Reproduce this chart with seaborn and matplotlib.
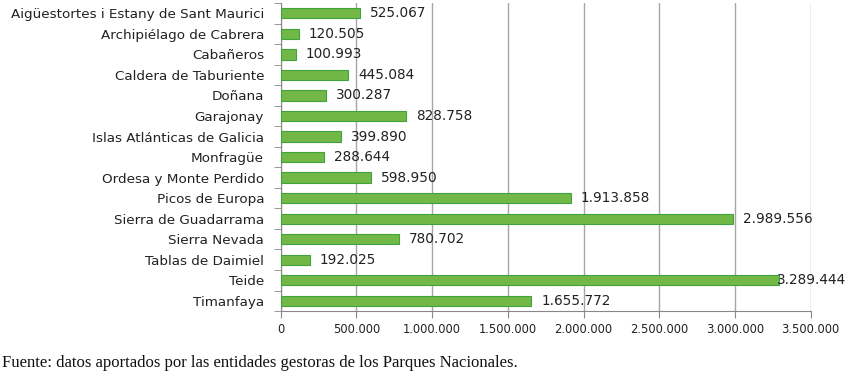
import seaborn as sns
import matplotlib.pyplot as plt
import matplotlib.ticker as mticker
import pandas as pd

sns.set_style("white")

parques = ["Aigüestortes i Estany de Sant Maurici", "Archipiélago de Cabrera", "Cabañeros",
           "Caldera de Taburiente", "Doñana", "Garajonay", "Islas Atlánticas de Galicia",
           "Monfragüe", "Ordesa y Monte Perdido", "Picos de Europa", "Sierra de Guadarrama",
           "Sierra Nevada", "Tablas de Daimiel", "Teide", "Timanfaya"]
visitantes = [525067, 120505, 100993, 445084, 300287, 828758, 399890, 288644,
              598950, 1913858, 2989556, 780702, 192025, 3289444, 1655772]

df = pd.DataFrame({"parque": parques, "visitantes": visitantes})

def miles(v, pos=None):
    return f"{int(v):,}".replace(",", ".")

fig = plt.figure(figsize=(8.56, 3.78), dpi=100)
ax = fig.add_axes([0.328, 0.177, 0.619, 0.815])

sns.barplot(data=df, x="visitantes", y="parque", color="#72b847", width=0.5,
            edgecolor="#3fa33f", linewidth=0.8, saturation=1, ax=ax, zorder=3)

for p, v in zip(ax.patches, visitantes):
    x = p.get_width() + 65000
    if x > 3250000:  # la etiqueta no cabe, se pega a la barra
        x = p.get_width() - 15000
    ax.text(x, p.get_y() + p.get_height() / 2, miles(v),
            va="center", ha="left", fontsize=9.8, color="#222222", zorder=4)

ax.set_xlim(0, 3500000)
ax.set_ylim(len(parques) - 0.5, -0.5)
ax.xaxis.set_major_locator(mticker.MultipleLocator(500000))
ax.xaxis.set_major_formatter(mticker.FuncFormatter(miles))
ax.grid(axis="x", color="#a6a6a6", linewidth=1, zorder=0)
ax.set_xlabel("")
ax.set_ylabel("")

# ticks en y entre categorias
ax.set_yticks(range(len(parques)))
ax.set_yticklabels(parques)
ax.set_yticks([i - 0.5 for i in range(len(parques) + 1)], minor=True)
ax.tick_params(axis="y", which="major", length=0, labelsize=9.7, pad=12, colors="#222222")
ax.tick_params(axis="y", which="minor", length=5, color="#888888", left=True)
ax.tick_params(axis="x", length=5, color="#888888", labelsize=8.3, colors="#222222", bottom=True)

for s in ["top", "right"]:
    ax.spines[s].set_visible(False)
ax.spines["left"].set_color("#888888")
ax.spines["bottom"].set_color("#888888")

fig.text(0.002, 0.03, "Fuente: datos aportados por las entidades gestoras de los Parques Nacionales.",
         family=["Liberation Serif", "DejaVu Serif"], fontsize=12, color="#111111")

plt.savefig("out.png", dpi=100)
